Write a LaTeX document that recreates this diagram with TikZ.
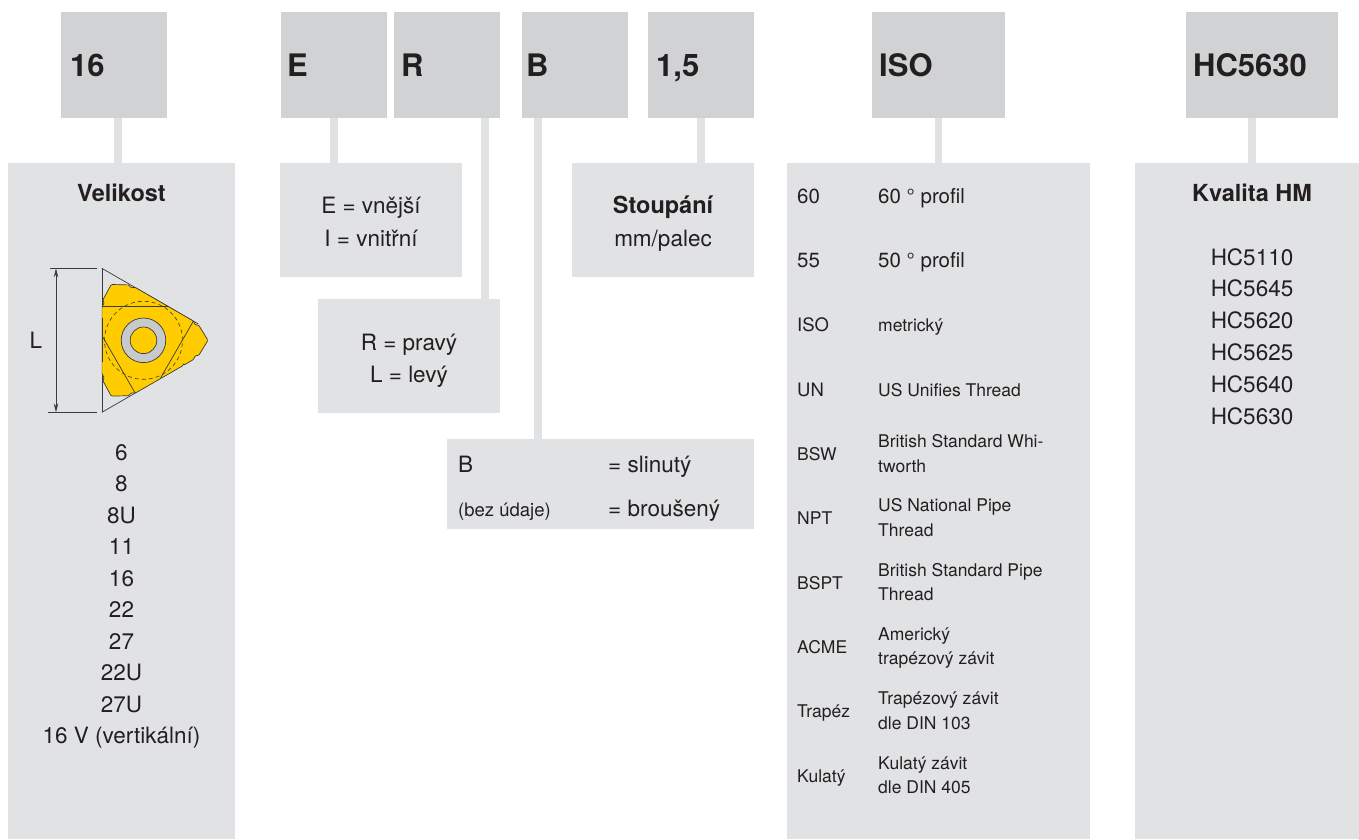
\documentclass[tikz,border=0pt]{standalone}
\usepackage{fontspec}
\setmainfont{TeX Gyre Heros}
\usetikzlibrary{arrows.meta}

\definecolor{codegray}{HTML}{D1D2D4}
\definecolor{panelgray}{HTML}{E1E2E4}
\definecolor{ink}{HTML}{231F20}
\definecolor{insertyellow}{HTML}{FFCC00}
\definecolor{holegray}{HTML}{C8C9CB}
\definecolor{lineink}{HTML}{3A3A3A}

\newcommand{\fsz}[1]{\fontsize{#1}{#1}\selectfont}

\begin{document}
\begin{tikzpicture}[x=1pt,y=-1pt,
  codebox/.style={fill=codegray, minimum width=106, minimum height=106, anchor=north west, inner sep=0, outer sep=0},
  panel/.style={fill=panelgray, anchor=north west, inner sep=0, outer sep=0},
  conn/.style={draw=panelgray, line width=7.5pt},
  codetxt/.style={anchor=base west, inner sep=0, text=ink, font=\fsz{31}\bfseries},
  titletxt/.style={anchor=base, inner sep=0, text=ink, font=\fsz{23.5}\bfseries},
  bodytxt/.style={anchor=base, inner sep=0, text=ink, font=\fsz{22.5}},
  lefttxt/.style={anchor=base west, inner sep=0, text=ink, font=\fsz{22.5}},
  notetxt/.style={anchor=base west, inner sep=0, text=ink, font=\fsz{18.5}},
  isobig/.style={anchor=base west, inner sep=0, text=ink, font=\fsz{20.5}},
  isomid/.style={anchor=base west, inner sep=0, text=ink, font=\fsz{18.5}},
  isosmall/.style={anchor=base west, inner sep=0, text=ink, font=\fsz{17.5}},
  dimline/.style={draw=lineink, line width=0.8pt},
  outline/.style={draw=lineink, line width=0.7pt},
]
\useasboundingbox (0,0) rectangle (1359,839);
\fill[white] (0,0) rectangle (1359,839);

% ---- lower panels ----
\node[panel, minimum width=227, minimum height=676] (pVel) at (8,163) {};
\node[panel, minimum width=182, minimum height=114] (pE) at (280,163) {};
\node[panel, minimum width=182, minimum height=114] (pR) at (318,299) {};
\node[panel, minimum width=307, minimum height=90] (pB) at (447,439) {};
\node[panel, minimum width=182, minimum height=114] (p15) at (572,163) {};
\node[panel, minimum width=303, minimum height=676] (pISO) at (787,163) {};
\node[panel, minimum width=224, minimum height=676] (pHC) at (1135,163) {};

% ---- code boxes ----
\node[codebox] (b16) at (61,12) {};
\node[codebox] (bE) at (281,12) {};
\node[codebox] (bR) at (394,12) {};
\node[codebox] (bB) at (522,12) {};
\node[codebox] (b15) at (648,12) {};
\node[codebox, minimum width=133] (bISO) at (872,12) {};
\node[codebox, minimum width=152] (bHC) at (1186,12) {};

\node[codetxt] (t16) at (70,76) {16};
\node[codetxt] (tE) at (287,76) {E};
\node[codetxt] (tR) at (401,76) {R};
\node[codetxt] (tB) at (526,76) {B};
\node[codetxt] (t15) at (656,76) {1,5};
\node[codetxt] (tISO) at (879,76) {ISO};
\node[codetxt] (tHC) at (1193,76) {HC5630};

% ---- connectors ----
\coordinate (k16) at ([xshift=4]b16.south);
\coordinate (kE) at (bE.south);
\coordinate (kR) at ([xshift=38]bR.south);
\coordinate (kB) at ([xshift=-37]bB.south);
\coordinate (k15) at (b15.south);
\coordinate (kISO) at (bISO.south);
\coordinate (kHC) at ([xshift=-10]bHC.south);
\draw[conn] (k16) -- (k16 |- pVel.north);
\draw[conn] (kE) -- (kE |- pE.north);
\draw[conn] (kR) -- (kR |- pR.north);
\draw[conn] (kB) -- (kB |- pB.north);
\draw[conn] (k15) -- (k15 |- p15.north);
\draw[conn] (kISO) -- (kISO |- pISO.north);
\draw[conn] (kHC) -- (kHC |- pHC.north);

% ---- size panel ----
\node[titletxt] (velT) at (121.5,201) {Velikost};
\foreach \t [count=\i] in {6,8,8U,11,16,22,27,22U,27U,{16 V (vertikální)}}
  \node[bodytxt] (vel\i) at (121.5,{460+31.5*(\i-1)}) {\t};

% insert sketch with its height dimension
\draw[dimline] (50,268.3) -- (96.7,268.3);
\draw[dimline] (48,412.3) -- (96.7,412.3);
\draw[dimline, {Stealth[length=9pt,width=4.5pt]}-{Stealth[length=9pt,width=4.5pt]}] (56,268.3) -- (56,412.3);
\node[bodytxt] (dimL) at (36,348) {L};

\begin{scope}[shift={(143.5,340.3)}, yscale=-1]
  \draw[outline] (-41.6,72) -- (-41.6,-72);
  \draw[outline] (-41.6,72) -- (55,16.2);
  \draw[outline] (-41.6,-72) -- (-8,-52.6);
  \begin{scope}
    \clip (-41.6,-90) rectangle (90,90);
    \filldraw[outline, fill=insertyellow, rounded corners=1.2pt] (-32:47.17)
      \foreach \a in {0,120,240} {
        -- ({\a-32}:47.17) -- ({\a-21}:53.56) -- ({\a-16.09}:54.12) -- ({\a-15.74}:57.14)
        -- ({\a-3.69}:62.13) -- ({\a}:64.5) -- ({\a+3.69}:62.13) -- ({\a+15.74}:57.14)
        -- ({\a+16.09}:54.12) -- ({\a+21}:53.56) -- ({\a+32}:47.17)
      } -- cycle;
  \end{scope}
  \draw[outline] (-41.6,-22.1) -- (-41.6,22.1);
  \foreach \a in {0,120,240}
    \draw[outline, rotate=\a] (-41.6,33.6) -- (24,33.6);
  \draw[draw=lineink, line width=0.6pt, dash pattern=on 4pt off 3pt] (0,0) circle (39);
  \filldraw[outline, fill=holegray] (0,0) circle (22.3);
  \filldraw[outline, fill=insertyellow] (0,0) circle (13.3);
\end{scope}

% ---- external / internal ----
\node[bodytxt] (eLine) at (371,213) {E = vnější};
\node[bodytxt] (iLine) at (371,246) {I = vnitřní};

% ---- right / left ----
\node[bodytxt] (rLine) at (409,350) {R = pravý};
\node[bodytxt] (lLine) at (409,382) {L = levý};

% ---- sintered / ground ----
\node[lefttxt] (bKey) at (458,472) {B};
\node[lefttxt] (bVal) at (608,472) {= slinutý};
\node[notetxt] (nKey) at (458,516) {(bez údaje)};
\node[lefttxt] (nVal) at (608,516) {= broušený};

% ---- pitch ----
\node[titletxt] (pitchT) at (663,213) {Stoupání};
\node[bodytxt] (pitchU) at (663,246) {mm/palec};

% ---- thread profiles ----
\node[isobig] (iso1k) at (797,203.3) {60};
\node[isobig] (iso1v) at (878,203.3) {60 ° profil};
\node[isobig] (iso2k) at (797,267.6) {55};
\node[isobig] (iso2v) at (878,267.6) {50 ° profil};
\node[isomid] (iso3k) at (797,331.9) {ISO};
\node[isosmall] (iso3v) at (878,331.9) {metrický};
\node[isomid] (iso4k) at (797,396.2) {UN};
\node[isosmall] (iso4v) at (878,396.2) {US Unifies Thread};
\node[isosmall] (iso5k) at (797,460.5) {BSW};
\node[isosmall] (iso5a) at (878,447.5) {British Standard Whi-};
\node[isosmall] (iso5b) at (878,472) {tworth};
\node[isosmall] (iso6k) at (797,524.8) {NPT};
\node[isosmall] (iso6a) at (878,511.8) {US National Pipe};
\node[isosmall] (iso6b) at (878,536.3) {Thread};
\node[isosmall] (iso7k) at (797,589.1) {BSPT};
\node[isosmall] (iso7a) at (878,576.1) {British Standard Pipe};
\node[isosmall] (iso7b) at (878,600.6) {Thread};
\node[isosmall] (iso8k) at (797,653.4) {ACME};
\node[isosmall] (iso8a) at (878,640.4) {Americký};
\node[isosmall] (iso8b) at (878,664.9) {trapézový závit};
\node[isosmall] (iso9k) at (797,717.7) {Trapéz};
\node[isosmall] (iso9a) at (878,704.7) {Trapézový závit};
\node[isosmall] (iso9b) at (878,729.2) {dle DIN 103};
\node[isosmall] (iso10k) at (797,782) {Kulatý};
\node[isosmall] (iso10a) at (878,769) {Kulatý závit};
\node[isosmall] (iso10b) at (878,793.5) {dle DIN 405};

% ---- carbide grade ----
\node[titletxt] (gradeT) at (1252,201) {Kvalita HM};
\foreach \t [count=\i] in {HC5110,HC5645,HC5620,HC5625,HC5640,HC5630}
  \node[bodytxt] (hc\i) at (1252,{265+31.8*(\i-1)}) {\t};
\end{tikzpicture}
\end{document}
